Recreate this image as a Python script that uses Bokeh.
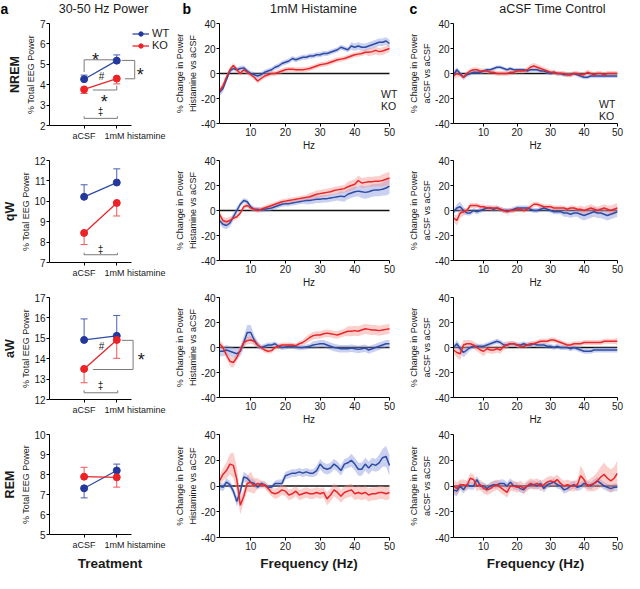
from bokeh.plotting import figure
from bokeh.layouts import row, column
from bokeh.models import (Range1d, LinearAxis, FixedTicker, Legend, LegendItem,
                          Title, ColumnDataSource)
from bokeh.core.properties import value
from bokeh.embed import file_html
from bokeh.resources import INLINE

# ---------------------------------------------------------------- data
panel_letters = ["a", "b", "c"]
panel_titles = ["30-50 Hz Power", "1mM Histamine", "aCSF Time Control"]
states = ["NREM", "qW", "aW", "REM"]
treatments = ["aCSF", "1mM histamine"]
treat_x = [0, 1]
treat_label_x = [0, 1.56]
series_names = ["WT", "KO"]

nrem_range = [2, 7]
qw_range = [7, 12]
aw_range = [12, 17]
rem_range = [5, 10]

nrem_wt = [4.27, 5.18]
nrem_wt_bar = [4.47, 5.46]
nrem_ko = [3.77, 4.30]
nrem_ko_bar = [3.57, 4.04]
qw_wt = [10.22, 10.92]
qw_wt_bar = [10.81, 11.59]
qw_ko = [8.45, 9.92]
qw_ko_bar = [7.88, 9.28]
aw_wt = [14.92, 15.12]
aw_wt_bar = [15.95, 16.12]
aw_ko = [13.50, 14.92]
aw_ko_bar = [12.82, 14.02]
rem_wt = [7.31, 8.20]
rem_wt_bar = [6.83, 8.52]
rem_ko = [7.89, 7.86]
rem_ko_bar = [8.36, 7.37]

# significance brackets and symbols (column a)
nrem_sig_xs = [[0, 0, 0.97], [1.15, 1.55, 1.55, 1.25], [0.27, 1.0, 1.0], [0, 0, 1.02, 1.02]]
nrem_sig_ys = [[4.62, 5.22, 5.22], [5.19, 5.19, 4.29, 4.29], [3.74, 3.74, 3.95], [2.45, 2.35, 2.35, 2.45]]
nrem_sym = ["*", "#", "*", "*", "\u2021"]
nrem_sym_x = [0.35, 0.53, 0.62, 1.72, 0.5]
nrem_sym_y = [5.45, 4.40, 3.42, 4.74, 2.70]
qw_sig_xs = [[0, 0, 1.02, 1.02]]
qw_sig_ys = [[7.48, 7.38, 7.38, 7.48]]
qw_sym = ["\u2021"]
qw_sym_x = [0.5]
qw_sym_y = [7.64]
aw_sig_xs = [[1.15, 1.5, 1.5, 0.27], [0, 0, 1.03, 1.03]]
aw_sig_ys = [[14.9, 14.9, 13.47, 13.47], [12.45, 12.33, 12.33, 12.45]]
aw_sym = ["#", "*", "\u2021"]
aw_sym_x = [0.53, 1.75, 0.5]
aw_sym_y = [14.62, 14.2, 12.68]
rem_sig_xs = []
rem_sig_ys = []
rem_sym = []
rem_sym_x = []
rem_sym_y = []

# spectra (columns b and c)
freq = list(range(1, 51))
hz_ticks = [10, 20, 30, 40, 50]
change_ticks = [-40, -20, 0, 20, 40]

b_nrem_wt = [-15, -12, -5, 2, 4, 3, 4, 4.5, 2, 0,
             -1, -2, -1, 1, 2, 3, 5, 6, 8, 9,
             10, 12, 11, 12, 13, 13, 14, 14, 15, 15,
             16, 16, 17, 18, 19, 21, 20, 19, 22, 21,
             22, 21, 21, 22, 23, 24, 25, 25, 26, 24]
b_nrem_wt_sem = [3, 3, 2, 2, 2, 2, 2, 2, 2, 2,
                 2, 2, 2, 2, 2, 2, 2, 2, 2, 2,
                 2, 2, 2, 2, 2, 2, 2, 2, 2, 2,
                 2, 2, 2, 2, 2, 2, 2, 2, 3, 3,
                 3, 3, 3, 3, 3, 3, 3, 3, 3, 3]
b_nrem_ko = [-14, -10, -3, 3, 6.5, 3, 0, 3, 1, -1,
             -3, -6, -4, -2, -1, 0, 0, 1, 2, 3,
             3.5, 3.5, 3, 3, 3, 3.5, 4, 5, 6, 7,
             7.5, 8, 9, 10, 11, 11.5, 12, 13, 14, 15,
             15.5, 16, 17, 17, 17.5, 18.5, 17.5, 18, 19, 20]
b_nrem_ko_sem = [3, 3, 2, 2, 2, 2, 2, 2, 2, 2,
                 2, 2, 2, 2, 2, 2, 2, 2, 2, 2,
                 2, 2, 2, 2, 2, 2, 2, 2, 2, 2,
                 2, 2, 2, 2, 2, 2, 2, 2, 2, 2,
                 2, 2, 2, 3, 3, 3, 3, 3, 3, 3]
b_qw_wt = [-8, -11, -12, -10, -5, 0, 5, 8, 7, 3,
           1, 1, 0.5, 1, 1.5, 2, 3, 4, 5, 5.5,
           5.5, 6, 6.5, 7, 7.5, 8, 8, 8.5, 9, 9,
           9.5, 9.5, 10, 10.5, 11, 11.5, 11, 13, 14, 15,
           15.5, 15, 14.5, 15, 16, 16.5, 16.5, 17, 18, 19.5]
b_qw_wt_sem = [3, 3, 3, 3, 3, 3, 2, 2, 2, 2,
               2, 2, 2, 2, 2, 2, 2, 2, 2, 2,
               2, 2, 2, 2, 2, 3, 3, 3, 3, 3,
               3, 3, 3, 3, 3, 4, 4, 4, 4, 4,
               4, 5, 5, 5, 5, 5, 5, 5, 6, 6]
b_qw_ko = [-3, -8, -9, -8, -6, -5, -2, 3, 4, 2,
           1, 0, 1, 2, 3, 4, 5, 6, 7, 7.5,
           8, 8.5, 9, 9.5, 10, 10.5, 11, 12, 13, 13.5,
           14, 14.5, 15, 16, 16.5, 17, 17.5, 19, 20, 21,
           24, 22, 22.5, 23, 23, 23.5, 23.5, 24, 25, 26]
b_qw_ko_sem = [3, 3, 3, 3, 2, 2, 2, 2, 2, 2,
               2, 2, 2, 2, 2, 2, 2, 2, 2, 2,
               2, 2, 2, 2, 2, 2, 3, 3, 3, 3,
               3, 3, 3, 3, 3, 3, 3, 4, 4, 4,
               4, 4, 4, 4, 4, 4, 4, 5, 5, 5]
b_aw_wt = [-3, -3, -2, -3, -4, -5, -3, 4, 12, 12,
           6, 2, 0, 1, 2, 2, 3, 1, 0, 0.5,
           1, 1, 0.5, 0, 0, 0.5, 1, 2, 2.5, 3,
           3, 2, 1, 0, -0.5, -1, -1, -1, -0.5, -1,
           -1.5, -1, -0.5, -2, -1, 0, 1, 2, 3, 3]
b_aw_wt_sem = [4, 4, 4, 4, 4, 4, 4, 5, 6, 6,
               4, 3, 2, 2, 2, 2, 2, 2, 2, 2,
               2, 2, 2, 2, 2, 2, 2, 3, 3, 3,
               3, 3, 3, 3, 3, 3, 3, 3, 3, 3,
               3, 3, 3, 3, 3, 3, 3, 3, 3, 3]
b_aw_ko = [3, 0, -6, -11, -12, -8, -2, 4, 5.5, 6,
           5, 2, 0, -2, -3, -2.5, 0, 1, 2, 2,
           2, 2, 1.5, 3, 4, 6, 8, 9.5, 10, 10,
           11, 11.5, 11, 10.5, 10, 11, 12, 13, 13, 13.5,
           13, 14, 15, 14.5, 14, 14, 13.5, 14, 14.5, 15]
b_aw_ko_sem = [3, 3, 3, 4, 4, 3, 3, 3, 3, 3,
               3, 2, 2, 2, 2, 2, 2, 2, 2, 2,
               2, 2, 2, 2, 2, 3, 3, 3, 3, 3,
               3, 3, 3, 3, 3, 3, 3, 4, 4, 4,
               4, 4, 4, 4, 4, 4, 4, 4, 4, 4]
b_rem_wt = [0, -1, 3, 1, -4, -12, -4, 7, 6, 3,
            2, -1, 2, 1, -1, -1, 2, 2, 2, 8,
            9, 10, 10, 11, 10, 11, 10, 10, 12, 17,
            14, 13, 14, 17, 15, 12, 17, 18, 20, 17,
            13, 13, 17, 14, 17, 16, 18, 22, 23, 16]
b_rem_wt_sem = [3, 3, 3, 3, 3, 4, 5, 4, 3, 3,
                3, 2, 2, 2, 2, 2, 2, 3, 3, 3,
                3, 3, 3, 3, 3, 3, 3, 3, 4, 4,
                4, 4, 4, 4, 4, 4, 4, 4, 5, 5,
                5, 5, 5, 5, 5, 5, 6, 7, 8, 8]
b_rem_ko = [4, 9, 12, 17, 16, 5, -15, -8, 2, 3,
            0, 2, 1, 1, -2, -5, -6, -5, -3, -4,
            -7, -6, -4, -7, -6, -5, -6, -6, -5, -6,
            -5, -10, -7, -3, -5, -8, -5, -4, -3, -6,
            -5, -6, -5, -7, -6, -6, -5, -5, -6, -5]
b_rem_ko_sem = [4, 5, 6, 8, 10, 10, 7, 5, 6, 8,
                6, 4, 3, 3, 3, 3, 4, 4, 4, 4,
                4, 4, 4, 4, 4, 4, 4, 4, 4, 4,
                4, 5, 5, 5, 5, 5, 5, 5, 5, 5,
                5, 5, 5, 5, 5, 5, 5, 5, 5, 5]

c_nrem_wt = [-1, 3, 0, -3, -1, 0, 1, 1, 1, 2,
             3, 3, 4, 5, 5, 4, 3, 4, 3, 3,
             3, 3, 2, 3, 3, 3, 2, 2, 1, 0,
             1, 0, 0, -1, -1, -1, 0, -1, -2, -3,
             -3, -2, -2, -2, -2, -2, -2, -2, -2, -2]
c_nrem_wt_sem = [3, 2, 2, 2, 2, 1.5, 1.5, 1.5, 1.5, 1.5,
                 1.5, 1.5, 1.5, 1.5, 1.5, 1.5, 1.5, 1.5, 1.5, 1.5,
                 1.5, 1.5, 1.5, 1.5, 1.5, 1.5, 1.5, 1.5, 1.5, 1.5,
                 1.5, 1.5, 1.5, 1.5, 1.5, 1.5, 1.5, 1.5, 1.5, 1.5,
                 1.5, 1.5, 1.5, 1.5, 1.5, 1.5, 1.5, 1.5, 1.5, 1.5]
c_nrem_ko = [-2, 0, -1, -3, 0, 2, 3, 3, 2, 2,
             2, 1, 1, 0, 0, 0, 0, 1, 1, 2,
             2, 2, 3, 5, 6, 5, 4, 3, 2, 1,
             1, 0, 0, 0, -1, -1, 0, 0, -1, -1,
             1, 0, -1, 0, 0, -1, 0, 0, 0, 0]
c_nrem_ko_sem = [3, 3, 2, 2, 2, 2, 2, 2, 2, 2,
                 2, 2, 2, 2, 2, 2, 2, 2, 2, 2,
                 2, 2, 2, 2.5, 2.5, 2.5, 2.5, 2, 2, 2,
                 2, 2, 2, 2, 2, 2, 2, 2, 2, 2,
                 2, 2, 2, 2, 2, 2, 2, 2, 2, 2]
c_qw_wt = [-1, 2, 3, 0, -2, -2, 0, -1, 0, 1,
           2, 2, 1, 2, 1, 0, 0, 0, 1, 2,
           2, 2, 2, 1, 0, 0, 1, 2, 1, 0,
           -1, -1, -1, -2, -2, -3, -2, -2, -3, -4,
           -3, -2, -1, -2, -2, -3, -4, -3, -2, -1]
c_qw_wt_sem = [2, 3, 4, 3, 2, 2, 2, 2, 2, 2,
               2, 2, 2, 2, 2, 2, 2, 2, 2, 2,
               2, 2, 2, 2, 2, 2, 2, 2, 2, 2,
               2, 2, 2, 3, 3, 3, 3, 3, 4, 4,
               4, 4, 4, 4, 4, 4, 4, 4, 4, 4]
c_qw_ko = [-6, -8, -2, -1, 0, 4, 4, 4, 3, 3,
           2, 2, 2, 2, 1, 0, -1, 0, 0, 1,
           1, 0, 1, 3, 5, 5, 4, 3, 3, 3,
           2, 2, 2, 2, 1, 2, 2, 1, 1, 0,
           1, 2, 1, 0, 1, 2, 1, 0, 1, 2]
c_qw_ko_sem = [3, 4, 4, 3, 2, 2, 2, 2, 2, 2,
               2, 2, 2, 2, 2, 2, 2, 2, 2, 2,
               2, 2, 2, 2, 2, 2, 2, 2, 2, 2,
               2, 2, 2, 2, 2, 2, 2, 2, 3, 3,
               3, 3, 3, 3, 3, 3, 3, 4, 4, 4]
c_aw_wt = [0, 3, -1, -4, -2, 0, 1, 1, 1, 1,
           2, 3, 4, 5, 4, 2, 2, 3, 3, 2,
           2, 3, 2, 2, 3, 2, 2, 2, 1, 1,
           0, 1, 0, 0, 0, -1, 0, -1, -2, -3,
           -3, -3, -2, -2, -2, -2, -2, -2, -2, -2]
c_aw_wt_sem = [2, 3, 3, 4, 3, 2, 2, 2, 2, 2,
               2, 2, 2, 2, 2, 2, 2, 2, 2, 2,
               2, 2, 2, 2, 2, 2, 2, 2, 2, 2,
               2, 2, 2, 2, 2, 2, 2, 2, 2, 2,
               2, 2, 2, 2, 2, 2, 2, 2, 2, 2]
c_aw_ko = [-2, -4, -5, 2, 3, 3, 2, 0, -2, -3,
           -1, -2, -2, -1, -2, 1, 2, 3, 3, 2,
           1, 1, 2, 3, 3, 4, 5, 5, 5, 6,
           6, 5, 4, 3, 2, 2, 3, 3, 3, 4,
           4, 4, 4, 4, 4, 5, 5, 5, 5, 5]
c_aw_ko_sem = [3, 4, 5, 4, 3, 3, 3, 3, 3, 4,
               3, 3, 3, 3, 3, 3, 3, 2, 2, 2,
               2, 2, 2, 2, 2, 2, 2, 2, 2, 2,
               2, 2, 2, 2, 2, 2, 2, 2, 2, 2,
               2, 2, 2, 2, 2, 2, 2, 2, 2, 3]
c_rem_wt = [-3, -4, 0, -3, 1, 0, 0, 5, 0, 0,
            -2, 0, 1, 1, 2, 2, 0, 3, 0, 0,
            -2, -3, 0, 1, 1, 0, 2, -2, 1, 2,
            3, 1, 0, -3, -2, 0, 1, -1, 0, 2,
            1, 0, 2, 4, 2, 0, -1, -2, -1, -1]
c_rem_wt_sem = [4, 4, 3, 3, 3, 3, 3, 3, 3, 3,
                3, 3, 3, 3, 3, 3, 3, 3, 3, 3,
                3, 3, 3, 3, 3, 3, 3, 3, 3, 3,
                3, 3, 3, 3, 3, 3, 3, 3, 3, 3,
                3, 3, 3, 3, 3, 3, 3, 3, 3, 3]
c_rem_ko = [0, -2, 1, 1, 0, 6, 5, 0, 1, -2,
            -3, -2, 0, 1, -1, -3, -5, 0, 0, -1,
            0, -2, 0, 2, 1, 2, 0, 1, 3, 4,
            3, 5, 2, 0, 1, 0, 0, 1, 8, 5,
            0, 1, 2, 4, 7, 9, 6, 4, 6, 10]
c_rem_ko_sem = [5, 5, 4, 4, 4, 4, 4, 4, 4, 4,
                4, 4, 4, 4, 4, 4, 4, 4, 4, 4,
                4, 4, 4, 4, 4, 4, 4, 4, 4, 4,
                4, 4, 4, 4, 4, 4, 4, 4, 8, 6,
                4, 5, 6, 7, 8, 9, 9, 9, 9, 10]

# ---------------------------------------------------------------- style
FONT = "Liberation Sans"
TXT = "#1a1a1a"
BLUE = "#2d4ca3"
RED = "#e8262c"
BLUE_BAND = "#8090dc"
RED_BAND = "#f58c86"
BAND_ALPHA = 0.42
BLUE_PT = "#23389a"
RED_PT = "#ec2227"
BLUE_ERR = "#4a5fb0"
RED_ERR = "#ee5555"
GREY = "#7a7a7a"

TOTAL_W = 624
HEADER_H = 17
COL_W = [172, 234, 218]
COL_BL = [44, 47, 46]
COL_BR = [2, 8, 7]
ROW_H = [136, 137, 137, 146]
ROW_BT = [6, 7, 7, 7]
ROW_BB = [28, 28, 28, 36]

# column a: x pixel scale 34 px per treatment step, first frame pixel at -1.06
A_XLO = -1.06
A_XHI = A_XLO + (COL_W[0] - COL_BL[0] - COL_BR[0]) / 34.0
A_AXIS_HI = 1.45
# column b: extra room right of 50 Hz for the legend text
B_FRAME = COL_W[1] - COL_BL[1] - COL_BR[1]
B_XHI = 1 + 49 * B_FRAME / 170.0

EEG_OFF = [32, 12, 13, 1]      # title offsets (px, positive = up)
STATE_OFF = [4, 1, -10, 3]
B_OFF = [16, 16, 16, 6]
SYM_SIZE = {"*": "18px", "#": "10px", "\u2021": "10px"}
SYM_DY = {"*": 5, "#": 0, "\u2021": 0}

# header text placement (canvas px from the top)
LETTER_X = [0, 182, 409]
TITLE_X = [103, 313, 552]
LETTER_TOP = 0.5
TITLE_TOP = 1.5


def base_fig(ci, ri, xr, yr, **kw):
    p = figure(width=COL_W[ci], height=ROW_H[ri], x_range=xr, y_range=yr,
               output_backend="svg", toolbar_location=None, title=None,
               min_border_left=COL_BL[ci], min_border_right=COL_BR[ci],
               min_border_top=ROW_BT[ri], min_border_bottom=ROW_BB[ri], **kw)
    p.outline_line_color = None
    p.grid.visible = False
    p.background_fill_color = "white"
    p.border_fill_color = "white"
    return p


def style_axis(ax, size="10px"):
    ax.axis_line_color = "black"
    ax.axis_line_width = 1
    ax.major_tick_line_color = "black"
    ax.major_tick_in = 0
    ax.major_tick_out = 3
    ax.minor_tick_line_color = None
    ax.major_label_text_font = FONT
    ax.major_label_text_font_size = size
    ax.major_label_text_color = TXT
    ax.major_label_standoff = 1
    ax.axis_label_text_font = FONT
    ax.axis_label_text_font_style = "normal"
    ax.axis_label_text_font_size = "10px"
    ax.axis_label_text_color = TXT
    ax.axis_label_standoff = 1


def side_title(p, text, size, offset, standoff, bold=False):
    t = Title(text=text, align="center", offset=offset, standoff=standoff,
              text_font=FONT, text_font_size=size, text_color=TXT,
              text_font_style="bold" if bold else "normal")
    p.add_layout(t, "left")


def style_legend(leg, glyph_w, size):
    leg.border_line_color = None
    leg.background_fill_alpha = 0
    leg.padding = 0
    leg.margin = 0
    leg.spacing = 0
    leg.glyph_width = glyph_w
    leg.glyph_height = 11
    leg.label_height = 11
    leg.label_standoff = 3
    leg.label_text_font = FONT
    leg.label_text_font_size = size
    leg.label_text_color = TXT


def power_panel(ri, state, yr, wt, wt_bar, ko, ko_bar, sxs, sys_, sym, symx, symy):
    p = base_fig(0, ri, Range1d(A_XLO, A_XHI), Range1d(yr[0], yr[1]), x_axis_location=None)
    ya = p.yaxis[0]
    ya.ticker = FixedTicker(ticks=list(range(yr[0], yr[1] + 1)))
    style_axis(ya, "10px")

    tick_ax = LinearAxis(ticker=FixedTicker(ticks=treat_x), bounds=(A_XLO, A_AXIS_HI))
    style_axis(tick_ax)
    tick_ax.major_label_overrides = {t: "" for t in treat_x}
    tick_ax.major_label_text_font_size = "0px"
    tick_ax.major_label_standoff = 0
    p.add_layout(tick_ax, "below")

    lab_ax = LinearAxis(ticker=FixedTicker(ticks=treat_label_x))
    style_axis(lab_ax, "9px")
    lab_ax.major_label_overrides = dict(zip(treat_label_x, treatments))
    lab_ax.axis_line_color = None
    lab_ax.major_tick_line_color = None
    lab_ax.major_tick_out = 0
    lab_ax.major_label_standoff = 2
    if ri == 3:
        lab_ax.axis_label = "Treatment"
        lab_ax.axis_label_text_font_style = "bold"
        lab_ax.axis_label_text_font_size = "13.5px"
        lab_ax.axis_label_standoff = 3
    p.add_layout(lab_ax, "below")

    if sxs:
        p.multi_line(xs=sxs, ys=sys_, line_color=GREY, line_width=1)
    if sym:
        src = ColumnDataSource(dict(x=symx, y=symy, t=sym,
                                    fs=[SYM_SIZE[s] for s in sym], dy=[SYM_DY[s] for s in sym]))
        p.text(x="x", y="y", text="t", source=src, text_font=value(FONT),
               text_font_size="fs", y_offset="dy", text_align="center",
               text_baseline="middle", text_color=TXT)

    p.segment(x0=treat_x, y0=wt, x1=treat_x, y1=wt_bar, line_color=BLUE_ERR, line_width=1)
    p.scatter(treat_x, wt_bar, marker="dash", size=7, line_color=BLUE_ERR, line_width=1)
    p.segment(x0=treat_x, y0=ko, x1=treat_x, y1=ko_bar, line_color=RED_ERR, line_width=1)
    p.scatter(treat_x, ko_bar, marker="dash", size=7, line_color=RED_ERR, line_width=1)
    wl = p.line(treat_x, wt, line_color=BLUE, line_width=1.3)
    wp = p.scatter(treat_x, wt, size=7, fill_color=BLUE_PT, line_color=BLUE_PT)
    kl = p.line(treat_x, ko, line_color=RED, line_width=1.3)
    kp = p.scatter(treat_x, ko, size=7, fill_color=RED_PT, line_color=RED_PT)

    side_title(p, "% Total EEG Power", "9px", EEG_OFF[ri], 2)
    side_title(p, state, "12.5px", STATE_OFF[ri], 1, bold=True)

    if ri == 0:
        leg = Legend(items=[LegendItem(label=series_names[0], renderers=[wl, wp]),
                            LegendItem(label=series_names[1], renderers=[kl, kp])],
                     location=(83, 74))
        style_legend(leg, 17, "11px")
        p.add_layout(leg)
    return p


def spectrum_panel(ci, ri, wt, wt_sem, ko, ko_sem):
    xhi = B_XHI if ci == 1 else 50
    p = base_fig(ci, ri, Range1d(1, xhi), Range1d(-40, 40))
    src = ColumnDataSource(dict(
        f=freq, wt=wt, ko=ko,
        wt_lo=[m - s for m, s in zip(wt, wt_sem)], wt_hi=[m + s for m, s in zip(wt, wt_sem)],
        ko_lo=[m - s for m, s in zip(ko, ko_sem)], ko_hi=[m + s for m, s in zip(ko, ko_sem)]))
    p.segment(x0=[freq[0]], y0=[0], x1=[freq[-1]], y1=[0], line_color="#111111",
              line_width=1.6, level="underlay")
    p.varea(x="f", y1="wt_lo", y2="wt_hi", source=src, fill_color=BLUE_BAND, fill_alpha=BAND_ALPHA)
    p.varea(x="f", y1="ko_lo", y2="ko_hi", source=src, fill_color=RED_BAND, fill_alpha=BAND_ALPHA)
    p.line("f", "wt", source=src, line_color=BLUE, line_width=1.5)
    p.line("f", "ko", source=src, line_color=RED, line_width=1.5)

    xa = p.xaxis[0]
    ya = p.yaxis[0]
    style_axis(xa)
    style_axis(ya)
    xa.bounds = (freq[0], freq[-1])
    xa.ticker = FixedTicker(ticks=hz_ticks)
    ya.ticker = FixedTicker(ticks=change_ticks)
    ya.major_label_overrides = {t: str(t) for t in change_ticks}
    if ri < 3:
        xa.axis_label = "Hz"
    else:
        xa.axis_label = "Frequency (Hz)"
        xa.axis_label_text_font_style = "bold"
        xa.axis_label_text_font_size = "13.5px"
        xa.axis_label_standoff = 3

    if ci == 1:
        side_title(p, "Histamine vs aCSF", "9px", B_OFF[ri], 1)
        side_title(p, "% Change in Power", "9px", B_OFF[ri], 1)
    else:
        side_title(p, "aCSF vs aCSF", "9px", 6, 1)
        side_title(p, "% Change in Power", "9px", -5, 1)

    if ri == 0:
        wk = p.line(x=[], y=[], line_color=BLUE, line_width=4)
        kk = p.line(x=[], y=[], line_color=RED, line_width=4)
        loc = (144, 11) if ci == 1 else (128, 1)
        leg = Legend(items=[LegendItem(label=series_names[0], renderers=[wk]),
                            LegendItem(label=series_names[1], renderers=[kk])],
                     location=loc)
        style_legend(leg, 15, "10.5px")
        p.add_layout(leg)
    return p


# ---------------------------------------------------------------- header (panel letters + titles)
header = figure(width=TOTAL_W, height=HEADER_H, x_range=Range1d(0, TOTAL_W),
                y_range=Range1d(0, HEADER_H), output_backend="svg", toolbar_location=None,
                title=None, min_border=0, x_axis_location=None, y_axis_location=None)
header.outline_line_color = None
header.grid.visible = False
header.text(x=LETTER_X, y=[HEADER_H - LETTER_TOP] * 3, text=panel_letters, text_font=value(FONT),
            text_font_size="14px", text_font_style="bold", text_align="left",
            text_baseline="top", text_color="black")
header.text(x=TITLE_X, y=[HEADER_H - TITLE_TOP] * 3, text=panel_titles, text_font=value(FONT),
            text_font_size="12.5px", text_align="center", text_baseline="top",
            text_color=TXT)

col_a = [
    power_panel(0, states[0], nrem_range, nrem_wt, nrem_wt_bar, nrem_ko, nrem_ko_bar,
                nrem_sig_xs, nrem_sig_ys, nrem_sym, nrem_sym_x, nrem_sym_y),
    power_panel(1, states[1], qw_range, qw_wt, qw_wt_bar, qw_ko, qw_ko_bar,
                qw_sig_xs, qw_sig_ys, qw_sym, qw_sym_x, qw_sym_y),
    power_panel(2, states[2], aw_range, aw_wt, aw_wt_bar, aw_ko, aw_ko_bar,
                aw_sig_xs, aw_sig_ys, aw_sym, aw_sym_x, aw_sym_y),
    power_panel(3, states[3], rem_range, rem_wt, rem_wt_bar, rem_ko, rem_ko_bar,
                rem_sig_xs, rem_sig_ys, rem_sym, rem_sym_x, rem_sym_y),
]
col_b = [
    spectrum_panel(1, 0, b_nrem_wt, b_nrem_wt_sem, b_nrem_ko, b_nrem_ko_sem),
    spectrum_panel(1, 1, b_qw_wt, b_qw_wt_sem, b_qw_ko, b_qw_ko_sem),
    spectrum_panel(1, 2, b_aw_wt, b_aw_wt_sem, b_aw_ko, b_aw_ko_sem),
    spectrum_panel(1, 3, b_rem_wt, b_rem_wt_sem, b_rem_ko, b_rem_ko_sem),
]
col_c = [
    spectrum_panel(2, 0, c_nrem_wt, c_nrem_wt_sem, c_nrem_ko, c_nrem_ko_sem),
    spectrum_panel(2, 1, c_qw_wt, c_qw_wt_sem, c_qw_ko, c_qw_ko_sem),
    spectrum_panel(2, 2, c_aw_wt, c_aw_wt_sem, c_aw_ko, c_aw_ko_sem),
    spectrum_panel(2, 3, c_rem_wt, c_rem_wt_sem, c_rem_ko, c_rem_ko_sem),
]

layout = column(header, row(column(*col_a), column(*col_b), column(*col_c)))

open("out.html", "w").write(file_html(layout, INLINE))
